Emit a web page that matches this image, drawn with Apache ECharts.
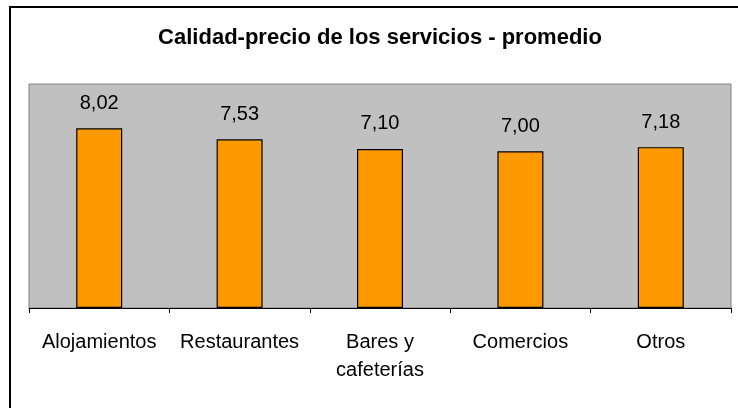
<!DOCTYPE html>
<html>
<head>
<meta charset="utf-8">
<script src="https://cdn.jsdelivr.net/npm/echarts@6/dist/echarts.min.js"></script>
<style>
  html, body { margin: 0; padding: 0; background: #fff; }
  #chart { width: 738px; height: 408px; }
</style>
</head>
<body>
<div id="chart"></div>
<script>
const chartTitle = "Calidad-precio de los servicios - promedio";
const categories = ["Alojamientos", "Restaurantes", "Bares y\ncafeterías", "Comercios", "Otros"];
const values = [8.02, 7.53, 7.10, 7.00, 7.18];
const yMin = 0;
const yMax = 10;

const fontFamily = "Liberation Sans, Arial, sans-serif";

const chart = echarts.init(document.getElementById("chart"));
chart.setOption({
  backgroundColor: "#ffffff",
  animation: false,
  textStyle: { fontFamily },
  title: {
    text: chartTitle,
    left: 375,
    textAlign: "center",
    top: 22,
    textStyle: { fontSize: 22, fontWeight: "bold", color: "#000", fontFamily },
  },
  graphic: [{
    type: "rect",
    shape: { x: 10, y: 7, width: 800, height: 500 },
    style: { fill: "none", stroke: "#000", lineWidth: 2 },
    silent: true,
  }],
  grid: {
    left: 29,
    right: 7,
    top: 84,
    bottom: 100,
    show: true,
    backgroundColor: "#c0c0c0",
    borderColor: "#808080",
    borderWidth: 1,
  },
  xAxis: {
    type: "category",
    data: categories,
    axisLine: { lineStyle: { color: "#000", width: 1 } },
    axisTick: { show: true, length: 5, lineStyle: { color: "#000" } },
    axisLabel: {
      color: "#000",
      fontSize: 20,
      margin: 20,
      lineHeight: 28,
      interval: 0,
      fontFamily,
    },
  },
  yAxis: {
    type: "value",
    min: yMin,
    max: yMax,
    show: false,
    splitLine: { show: false },
  },
  series: [{
    type: "bar",
    data: values,
    barWidth: 46,
    itemStyle: { color: "#ff9900", borderColor: "#000", borderWidth: 1.2 },
    label: {
      show: true,
      position: "top",
      distance: 15,
      color: "#000",
      fontSize: 20,
      fontFamily,
      formatter: (p) => p.value.toFixed(2).replace(".", ","),
    },
  }],
});
</script>
</body>
</html>
